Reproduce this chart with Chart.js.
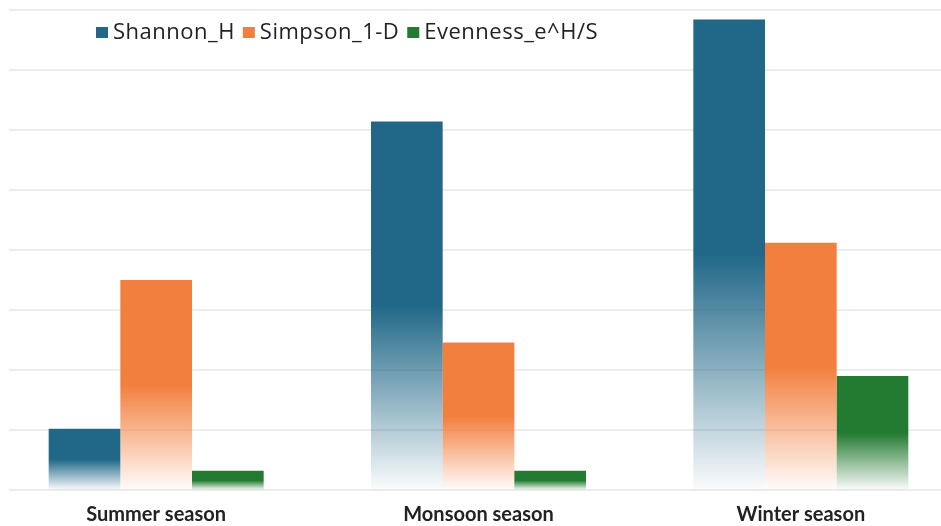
<!DOCTYPE html>
<html>
<head>
<meta charset="utf-8">
<script src="https://cdn.jsdelivr.net/npm/chart.js@4.4.1/dist/chart.umd.min.js"></script>
<style>
  html, body { margin: 0; padding: 0; background: #fff; overflow: hidden; }
  #wrap { position: absolute; left: -5px; top: 0; width: 967px; height: 526px; }
</style>
</head>
<body>
<div id="wrap"><canvas id="grafico"></canvas></div>
<script>
// dados do gráfico
var estacoes = ["Summer season", "Monsoon season", "Winter season"];
var shannonH = [0.51, 3.07, 3.92];
var simpson1D = [1.75, 1.23, 2.06];
var evenness = [0.16, 0.16, 0.95];
var nomesSeries = ["Shannon_H", "Simpson_1-D", "Evenness_e^H/S"];
var coresSeries = ["#216888", "#f37f3e", "#237a31"];
var eixoMin = 0;
var eixoMax = 4;
var eixoPasso = 0.5;

function rgba(hex, a) {
  var r = parseInt(hex.substr(1, 2), 16);
  var g = parseInt(hex.substr(3, 2), 16);
  var b = parseInt(hex.substr(5, 2), 16);
  return "rgba(" + r + "," + g + "," + b + "," + a + ")";
}

// cada barra desbota para branco na parte de baixo
function degrade(cor) {
  return function (context) {
    var chart = context.chart;
    if (!chart.chartArea) return cor;
    var y = chart.scales.y;
    var topo = y.getPixelForValue(context.raw);
    var base = y.getPixelForValue(0);
    if (!isFinite(topo) || topo >= base) return cor;
    var g = chart.ctx.createLinearGradient(0, topo, 0, base);
    g.addColorStop(0, cor);
    g.addColorStop(0.5, cor);
    g.addColorStop(1, rgba(cor, 0.02));
    return g;
  };
}

var linhasGrade = {
  id: "linhasGrade",
  beforeDatasetsDraw: function (chart) {
    var ctx = chart.ctx;
    var y = chart.scales.y;
    ctx.save();
    ctx.strokeStyle = "#ececec";
    ctx.lineWidth = 2;
    for (var v = eixoMin; v <= eixoMax + 1e-9; v += eixoPasso) {
      var py = Math.round(y.getPixelForValue(v));
      ctx.beginPath();
      ctx.moveTo(14, py);
      ctx.lineTo(chart.width, py);
      ctx.stroke();
    }
    ctx.restore();
  },
};

var legendaTopo = {
  id: "legendaTopo",
  afterDraw: function (chart) {
    var ctx = chart.ctx;
    var x = 101;
    var yc = 33;
    ctx.save();
    ctx.font = "22px 'Open Sans'";
    ctx.letterSpacing = "0.5px";
    ctx.textBaseline = "middle";
    for (var i = 0; i < nomesSeries.length; i++) {
      ctx.fillStyle = coresSeries[i];
      ctx.fillRect(x, yc - 6, 12, 11);
      x += 17;
      ctx.fillStyle = "#222222";
      ctx.fillText(nomesSeries[i], x, yc);
      x += ctx.measureText(nomesSeries[i]).width + 8;
    }
    ctx.restore();
  },
};

var dados = {
  labels: estacoes,
  datasets: [
    { label: nomesSeries[0], data: shannonH, backgroundColor: degrade(coresSeries[0]) },
    { label: nomesSeries[1], data: simpson1D, backgroundColor: degrade(coresSeries[1]) },
    { label: nomesSeries[2], data: evenness, backgroundColor: degrade(coresSeries[2]) },
  ],
};

var config = {
  type: "bar",
  data: dados,
  options: {
    responsive: true,
    maintainAspectRatio: false,
    animation: false,
    datasets: {
      bar: { categoryPercentage: 0.667, barPercentage: 1.0, borderWidth: 0 },
    },
    layout: { padding: { top: 10, bottom: -14, left: 0, right: 0 } },
    plugins: {
      legend: { display: false },
      tooltip: { enabled: false },
    },
    scales: {
      x: {
        grid: { display: false, drawTicks: false },
        border: { display: false },
        ticks: {
          color: "#222222",
          padding: 13,
          font: { family: "Lato", size: 20, weight: "bold" },
        },
      },
      y: {
        display: false,
        min: eixoMin,
        max: eixoMax,
        ticks: { stepSize: eixoPasso },
      },
    },
  },
  plugins: [linhasGrade, legendaTopo],
};

var grafico = new Chart(document.getElementById("grafico"), config);
</script>
</body>
</html>
